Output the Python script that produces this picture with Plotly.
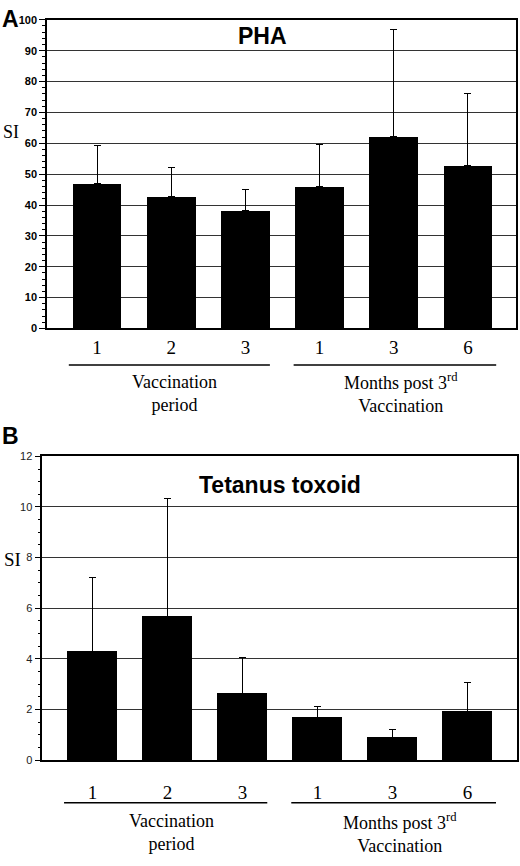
import plotly.graph_objects as go
from plotly.subplots import make_subplots

# ---- data ----
x_pos = [0, 1, 2, 3, 4, 5]
x_labels = ["1", "2", "3", "1", "3", "6"]

pha_mean = [47.0, 42.7, 38.1, 45.9, 62.2, 52.8]
pha_sd = [12.4, 9.3, 7.0, 13.8, 34.6, 23.2]

tt_mean = [4.30, 5.69, 2.65, 1.68, 0.90, 1.94]
tt_sd = [2.93, 4.66, 1.39, 0.45, 0.32, 1.13]

group_names = ["Vaccination<br>period", "Months post 3<sup>rd</sup><br>Vaccination"]
group_spans = [(-0.38, 2.33), (2.65, 5.38)]
group_centers = [1.05, 4.1]

W, H = 520, 866
serif = "Liberation Serif"
sans = "Liberation Sans"


def py(px):
    # pixel row -> paper fraction
    return 1 - px / H


fig = make_subplots(rows=2, cols=1)

fig.add_trace(go.Bar(
    x=x_pos, y=pha_mean, width=0.66, marker_color="black", marker_line_width=0,
    error_y=dict(type="data", array=pha_sd, arrayminus=[0] * 6, symmetric=False,
                 color="black", thickness=1, width=3.5),
    showlegend=False), row=1, col=1)

fig.add_trace(go.Bar(
    x=x_pos, y=tt_mean, width=0.67, marker_color="black", marker_line_width=0,
    error_y=dict(type="data", array=tt_sd, arrayminus=[0] * 6, symmetric=False,
                 color="black", thickness=1, width=3.5),
    showlegend=False), row=2, col=1)

# axes, panel A
fig.update_xaxes(domain=[47 / W, 516 / W], range=[-0.674, 5.647],
                 tickvals=x_pos, ticktext=x_labels, ticks="", ticklabelstandoff=1,
                 tickfont=dict(family=serif, size=19, color="black"),
                 showgrid=False, showline=True, linecolor="black", linewidth=1.5,
                 mirror=True, zeroline=False, row=1, col=1)
fig.update_yaxes(domain=[py(327), py(14)], range=[0, 100], dtick=10,
                 ticks="outside", ticklen=6, tickcolor="black", tickwidth=1,
                 minor=dict(dtick=2, ticks="outside", ticklen=3, tickcolor="black"),
                 tickfont=dict(family=sans, size=11, color="black", weight="bold"),
                 showgrid=True, gridcolor="#333333", gridwidth=1.3,
                 showline=True, linecolor="black", linewidth=1.5, mirror=True,
                 zeroline=False, row=1, col=1)

# axes, panel B
fig.update_xaxes(domain=[42.3 / W, 516.7 / W], range=[-0.67, 5.656],
                 tickvals=x_pos, ticktext=x_labels, ticks="", ticklabelstandoff=14,
                 tickfont=dict(family=serif, size=19, color="black"),
                 showgrid=False, showline=True, linecolor="black", linewidth=1.5,
                 mirror=True, zeroline=False, row=2, col=1)
fig.update_yaxes(domain=[py(764.7), py(456.7)], range=[0, 12], dtick=2,
                 ticks="outside", ticklen=6, tickcolor="black", tickwidth=1,
                 minor=dict(dtick=0.5, ticks="outside", ticklen=3, tickcolor="black"),
                 tickfont=dict(family=sans, size=11, color="#222222"),
                 showgrid=True, gridcolor="#333333", gridwidth=1.3,
                 showline=True, linecolor="black", linewidth=1.5, mirror=True,
                 zeroline=False, row=2, col=1)

ann = []
# panel letters, titles, SI labels
ann.append(dict(text="<b>A</b>", x=10 / W, y=py(13), font=dict(family=sans, size=23)))
ann.append(dict(text="<b>B</b>", x=10 / W, y=py(436), font=dict(family=sans, size=23)))
ann.append(dict(text="<b>PHA</b>", x=262 / W, y=py(30), font=dict(family=sans, size=23)))
ann.append(dict(text="<b>Tetanus toxoid</b>", x=280 / W, y=py(486), font=dict(family=sans, size=23)))
ann.append(dict(text="SI", x=11 / W, y=py(128), font=dict(family=serif, size=18)))
ann.append(dict(text="SI", x=12 / W, y=py(561), font=dict(family=serif, size=19)))
for a in ann:
    a.update(xref="paper", yref="paper", showarrow=False, xanchor="center",
             yanchor="middle")
    a["font"]["color"] = "black"

# group labels and underline bars
for xr, top, line_px in [("x", 392.5, 364), ("x2", 838.5, 808)]:
    for name, c in zip(group_names, group_centers):
        ann.append(dict(text=name, x=c, xref=xr, y=py(top), yref="paper",
                        showarrow=False, xanchor="center", yanchor="middle",
                        font=dict(family=serif, size=18, color="black")))
    for x0, x1 in group_spans:
        fig.add_shape(type="line", xref=xr, yref="paper", x0=x0, x1=x1,
                      y0=py(line_px), y1=py(line_px),
                      line=dict(color="black", width=1.5))

fig.update_layout(
    width=W, height=H, margin=dict(l=0, r=0, t=0, b=0),
    paper_bgcolor="white", plot_bgcolor="white",
    annotations=ann, bargap=0, showlegend=False)

# drop the default 8px page margin so the figure sits at the window corner
fig.write_html("out.html", config={"displayModeBar": False},
               post_script="document.body.style.margin='0';")
